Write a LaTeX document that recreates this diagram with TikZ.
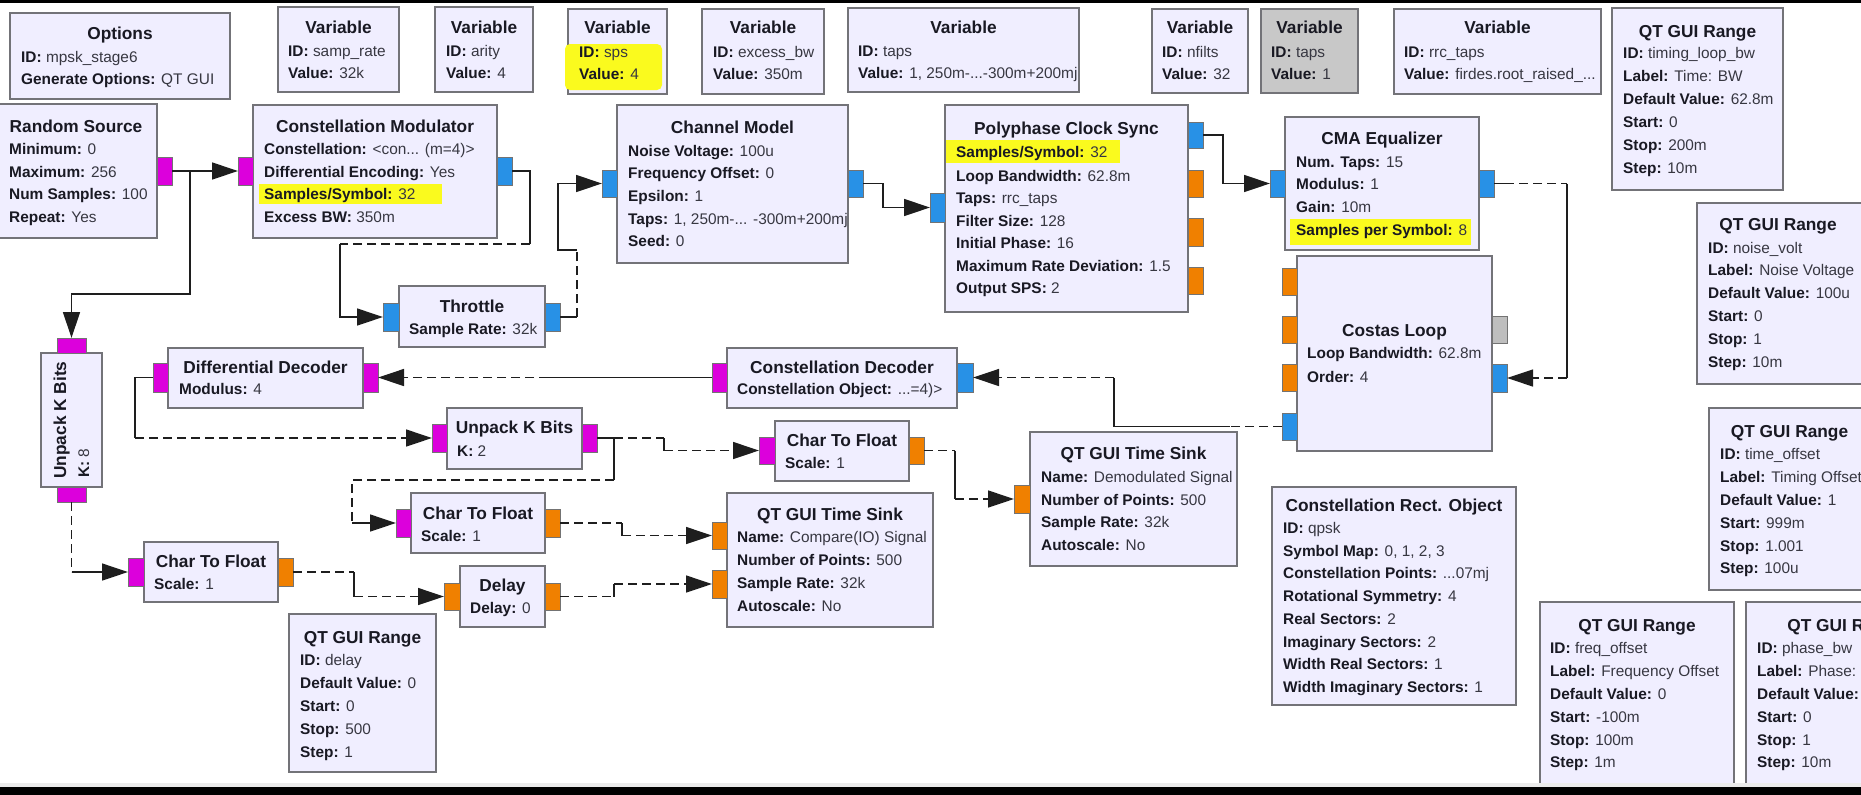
\documentclass[tikz,border=0pt]{standalone}
\usepackage{fontspec}
\setmainfont{Liberation Sans}
\usetikzlibrary{arrows.meta,fit}
\definecolor{bfill}{RGB}{240,238,255}
\definecolor{bdraw}{RGB}{115,115,120}
\definecolor{gfill}{RGB}{200,200,200}
\definecolor{pmag}{RGB}{220,0,220}
\definecolor{pblue}{RGB}{40,145,230}
\definecolor{porg}{RGB}{240,128,0}
\definecolor{pgray}{RGB}{190,190,190}
\definecolor{hl}{RGB}{250,250,30}
\definecolor{txt}{RGB}{25,25,35}
\definecolor{val}{RGB}{55,55,65}
\definecolor{wcol}{RGB}{30,30,30}
\newcommand\tfnt{\fontsize{17.3}{20}\selectfont\bfseries}
\newcommand\pfnt{\fontsize{15.4}{18}\selectfont}
\newcounter{tn}
\newcommand\Ttl[3]{\stepcounter{tn}\node[ttl] (tt\arabic{tn}) at (#1,#2+6) {#3};}
\newcommand\Pl[3]{\stepcounter{tn}\node[prm] (tp\arabic{tn}) at (#1,#2+5.5) {#3};}
\newcommand\kv[2]{\textbf{#1:} \textcolor{val}{#2}}
\newcommand\Blk[6][bfill]{\node[blk, fill=#1, fit={(#3,#4) (#5,#6)}] (#2) {};}
\newcommand\Prt[6]{\node[prt, fill=#2, fit={(#3,#4) (#5,#6)}] (#1) {};}
\tikzset{
  blk/.style={draw=bdraw, line width=1.4pt, inner sep=0pt, outer sep=0pt},
  prt/.style={draw=black!55, line width=0.8pt, inner sep=0pt, outer sep=0pt},
  ttl/.style={font=\tfnt, anchor=base, text=txt, inner sep=0pt},
  prm/.style={font=\pfnt, anchor=base west, text=txt, inner sep=0pt},
  wire/.style={line width=1.3pt, draw=wcol},
  dwire/.style={wire, dash pattern=on 9pt off 5pt},
  arr/.style={-{Triangle[length=26pt,width=17pt]}}
}
\begin{document}
\begin{tikzpicture}[x=1pt,y=-1pt]
\useasboundingbox (0,0) rectangle (1861,795);
\clip (0,0) rectangle (1861,795);
\fill[white] (0,0) rectangle (1861,795);

% ---------- top row ----------
\Blk{opt}{10}{13}{230}{99}
\Blk{vsr}{278}{7}{399}{92}
\Blk{var}{435}{7}{533}{92}
\Blk{vsps}{568}{9}{667}{94}
\Blk{vebw}{702}{9}{824}{94}
\Blk{vtaps}{848}{8}{1079}{92}
\Blk{vnf}{1152}{9}{1248}{93}
\Blk[gfill]{vtg}{1261}{9}{1358}{93}
\Blk{vrrc}{1394}{9}{1601}{94}
\Blk{rtl}{1612}{8}{1783}{190}
\Blk{rnv}{1697}{203}{1866}{384}
% ---------- main blocks ----------
\Blk{rs}{-3}{104}{157}{238}
\Blk{cm}{253}{105}{497}{238}
\Blk{ch}{617}{105}{848}{263}
\Blk{th}{399}{286}{545}{347}
\Blk{pc}{945}{105}{1188}{312}
\Blk{cma}{1285}{117}{1479}{250}
\Blk{co}{1297}{256}{1492}{451}
\Blk{dd}{168}{348}{363}{408}
\Blk{cd}{727}{348}{957}{408}
\Blk{u2}{447}{408}{582}{469}
\Blk{u8}{41}{353}{102}{487}
\Blk{c1}{775}{421}{909}{481}
\Blk{c2}{411}{493}{545}{553}
\Blk{c3}{144}{542}{278}{602}
\Blk{dl}{460}{566}{545}{627}
\Blk{tsd}{1030}{432}{1237}{566}
\Blk{tsc}{727}{493}{933}{627}
\Blk{rdl}{289}{614}{436}{772}
\Blk{cro}{1272}{487}{1516}{705}
\Blk{rto}{1709}{408}{1870}{590}
\Blk{rfo}{1540}{602}{1734}{805}
\Blk{rpb}{1746}{602}{1946}{805}

% ---------- highlights ----------
\fill[hl, rounded corners=5pt] (565,44) rectangle (662,90);
\fill[hl] (259,184) rectangle (442,204);
\fill[hl] (946,140) rectangle (1120,163);
\fill[hl] (1290,219) rectangle (1471,245);

% ---------- ports ----------
\Prt{rso}{pmag}{157}{157}{172}{185}
\Prt{cmi}{pmag}{238}{157}{253}{185}
\Prt{cmo}{pblue}{497}{157}{512}{185}
\Prt{chi}{pblue}{602}{170}{617}{197}
\Prt{cho}{pblue}{848}{170}{863}{197}
\Prt{thi}{pblue}{383}{303}{399}{331}
\Prt{tho}{pblue}{545}{303}{560}{331}
\Prt{pci}{pblue}{930}{193}{945}{222}
\Prt{pco1}{pblue}{1188}{122}{1203}{148}
\Prt{pco2}{porg}{1188}{170}{1203}{197}
\Prt{pco3}{porg}{1188}{218}{1203}{246}
\Prt{pco4}{porg}{1188}{267}{1203}{294}
\Prt{cmai}{pblue}{1270}{170}{1285}{197}
\Prt{cmao}{pblue}{1479}{170}{1494}{197}
\Prt{colo1}{porg}{1282}{268}{1297}{295}
\Prt{colo2}{porg}{1282}{316}{1297}{343}
\Prt{colo3}{porg}{1282}{364}{1297}{391}
\Prt{colo4}{pblue}{1282}{413}{1297}{440}
\Prt{corg}{pgray}{1492}{316}{1507}{343}
\Prt{cori}{pblue}{1492}{364}{1507}{392}
\Prt{ddo}{pmag}{153}{363}{168}{392}
\Prt{ddi}{pmag}{363}{363}{378}{392}
\Prt{cdi}{pmag}{712}{363}{727}{392}
\Prt{cdo}{pblue}{957}{363}{973}{392}
\Prt{u2i}{pmag}{432}{424}{447}{452}
\Prt{u2o}{pmag}{582}{424}{597}{452}
\Prt{u8i}{pmag}{57}{338}{86}{353}
\Prt{u8o}{pmag}{57}{487}{86}{502}
\Prt{c1i}{pmag}{759}{437}{775}{464}
\Prt{c1o}{porg}{909}{437}{924}{464}
\Prt{c2i}{pmag}{396}{509}{411}{537}
\Prt{c2o}{porg}{545}{509}{560}{537}
\Prt{c3i}{pmag}{128}{558}{144}{586}
\Prt{c3o}{porg}{278}{558}{293}{586}
\Prt{dli}{porg}{444}{583}{460}{610}
\Prt{dlo}{porg}{545}{583}{560}{610}
\Prt{tsdi}{porg}{1014}{485}{1030}{513}
\Prt{tsci1}{porg}{712}{522}{727}{549}
\Prt{tsci2}{porg}{712}{570}{727}{598}

% ---------- connectors ----------
\draw[wire,arr] (rso.east) -- (cmi.west);
\coordinate (br) at (190,171);
\draw[wire,arr] (br) -- (190,294) -- (71.5,294) -- (u8i.north);
\draw[wire] (cmo.east) -| (530,244);
\draw[dwire] (530,244) -- (340,244);
\draw[wire,arr] (340,244) |- (thi.west);
\draw[wire] (tho.east) -- (577,317);
\draw[dwire] (577,317) -- (577,250);
\draw[wire,arr] (577,250) -- (558,250) |- (chi.west);
\draw[wire,arr] (cho.east) -| (883,207.5) -- (pci.west);
\draw[wire,arr] (pco1.east) -| (1223,183.5) -- (cmai.west);
\draw[wire] (cmao.east) -- (1505,183.5);
\draw[dwire] (1505,183.5) -- (1567,183.5);
\draw[wire] (1567,183.5) -- (1567,378);
\draw[dwire,arr] (1567,378) -- (cori.east);
\draw[dwire] (colo4.west) -- (1230,426.5);
\draw[wire] (1230,426.5) -| (1114,377.5);
\draw[dwire,arr] (1114,377.5) -- (cdo.east);
\draw[wire] (cdi.west) -- (548,377.5);
\draw[dwire,arr] (548,377.5) -- (ddi.east);
\draw[wire] (ddo.west) -- (135,377.5) -- (135,438);
\draw[dwire,arr] (135,438) -- (u2i.west);
\draw[wire] (u2o.east) -- (614,438);
\draw[dwire] (614,438) -- (664,438);
\draw[wire] (664,438) -- (664,450.5);
\draw[dwire,arr] (664,450.5) -- (c1i.west);
\draw[wire] (614,438) -- (614,480);
\draw[dwire] (614,480) -- (352,480) -- (352,523);
\draw[wire,arr] (352,523) -- (c2i.west);
\draw[dwire] (c1o.east) -- (955,450.5);
\draw[wire] (955,450.5) -- (955,499);
\draw[dwire,arr] (955,499) -- (tsdi.west);
\draw[dwire] (c2o.east) -- (622,523);
\draw[wire] (622,523) -- (622,535.5);
\draw[dwire,arr] (622,535.5) -- (tsci1.west);
\draw[dwire] (dlo.east) -- (614,596.5);
\draw[wire] (614,596.5) -- (614,584);
\draw[dwire,arr] (614,584) -- (tsci2.west);
\draw[dwire] (u8o.south) -- (71.5,572);
\draw[wire,arr] (71.5,572) -- (c3i.west);
\draw[dwire] (c3o.east) -- (354,572);
\draw[wire] (354,572) -- (354,596.5);
\draw[dwire,arr] (354,596.5) -- (dli.west);

% ---------- texts ----------
\Ttl{120}{33}{Options}
\Pl{21}{57}{\kv{ID}{mpsk\_stage6}}
\Pl{21}{79}{\kv{Generate Options}{QT GUI}}

\Ttl{338.5}{27}{Variable}
\Pl{288}{51}{\kv{ID}{samp\_rate}}
\Pl{288}{73}{\kv{Value}{32k}}

\Ttl{484}{27}{Variable}
\Pl{446}{51}{\kv{ID}{arity}}
\Pl{446}{73}{\kv{Value}{4}}

\Ttl{617.5}{28}{Variable}
\Pl{579}{52}{\kv{ID}{sps}}
\Pl{579}{74}{\kv{Value}{4}}

\Ttl{763}{28}{Variable}
\Pl{713}{52}{\kv{ID}{excess\_bw}}
\Pl{713}{74}{\kv{Value}{350m}}

\Ttl{963.5}{27}{Variable}
\Pl{858}{51}{\kv{ID}{taps}}
\Pl{858}{73}{\kv{Value}{1, 250m-...-300m+200mj}}

\Ttl{1200}{28}{Variable}
\Pl{1162}{52}{\kv{ID}{nfilts}}
\Pl{1162}{74}{\kv{Value}{32}}

\Ttl{1309.5}{28}{Variable}
\Pl{1271}{52}{\kv{ID}{taps}}
\Pl{1271}{74}{\kv{Value}{1}}

\Ttl{1497.5}{28}{Variable}
\Pl{1404}{52}{\kv{ID}{rrc\_taps}}
\Pl{1404}{74}{\kv{Value}{firdes.root\_raised\_...}}

\Ttl{1697.5}{31}{QT GUI Range}
\Pl{1623}{53}{\kv{ID}{timing\_loop\_bw}}
\Pl{1623}{76}{\kv{Label}{Time: BW}}
\Pl{1623}{99}{\kv{Default Value}{62.8m}}
\Pl{1623}{122}{\kv{Start}{0}}
\Pl{1623}{145}{\kv{Stop}{200m}}
\Pl{1623}{168}{\kv{Step}{10m}}

\Ttl{1778}{224}{QT GUI Range}
\Pl{1708}{248}{\kv{ID}{noise\_volt}}
\Pl{1708}{270}{\kv{Label}{Noise Voltage}}
\Pl{1708}{293}{\kv{Default Value}{100u}}
\Pl{1708}{316}{\kv{Start}{0}}
\Pl{1708}{339}{\kv{Stop}{1}}
\Pl{1708}{362}{\kv{Step}{10m}}

\Ttl{76}{126}{Random Source}
\Pl{9}{149}{\kv{Minimum}{0}}
\Pl{9}{172}{\kv{Maximum}{256}}
\Pl{9}{194}{\kv{Num Samples}{100}}
\Pl{9}{217}{\kv{Repeat}{Yes}}

\Ttl{375}{126}{Constellation Modulator}
\Pl{264}{149}{\kv{Constellation}{<con... (m=4)>}}
\Pl{264}{172}{\kv{Differential Encoding}{Yes}}
\Pl{264}{194}{\kv{Samples/Symbol}{32}}
\Pl{264}{217}{\kv{Excess BW}{350m}}

\Ttl{732.5}{127}{Channel Model}
\Pl{628}{151}{\kv{Noise Voltage}{100u}}
\Pl{628}{173}{\kv{Frequency Offset}{0}}
\Pl{628}{196}{\kv{Epsilon}{1}}
\Pl{628}{219}{\kv{Taps}{1, 250m-... -300m+200mj}}
\Pl{628}{241}{\kv{Seed}{0}}

\Ttl{472}{306}{Throttle}
\Pl{409}{329}{\kv{Sample Rate}{32k}}

\Ttl{1066.5}{128}{Polyphase Clock Sync}
\Pl{956}{152}{\kv{Samples/Symbol}{32}}
\Pl{956}{176}{\kv{Loop Bandwidth}{62.8m}}
\Pl{956}{198}{\kv{Taps}{rrc\_taps}}
\Pl{956}{221}{\kv{Filter Size}{128}}
\Pl{956}{243}{\kv{Initial Phase}{16}}
\Pl{956}{266}{\kv{Maximum Rate Deviation}{1.5}}
\Pl{956}{288}{\kv{Output SPS}{2}}

\Ttl{1382}{138}{CMA Equalizer}
\Pl{1296}{162}{\kv{Num. Taps}{15}}
\Pl{1296}{184}{\kv{Modulus}{1}}
\Pl{1296}{207}{\kv{Gain}{10m}}
\Pl{1296}{230}{\kv{Samples per Symbol}{8}}

\Ttl{1394.5}{330}{Costas Loop}
\Pl{1307}{353}{\kv{Loop Bandwidth}{62.8m}}
\Pl{1307}{377}{\kv{Order}{4}}

\Ttl{265.5}{367}{Differential Decoder}
\Pl{179}{389}{\kv{Modulus}{4}}

\Ttl{842}{367}{Constellation Decoder}
\Pl{737}{389}{\kv{Constellation Object}{...=4)>}}

\Ttl{514.5}{427}{Unpack K Bits}
\Pl{457}{451}{\kv{K}{2}}

\node[ttl, rotate=90] (u8t) at (66,420) {Unpack K Bits};
\node[prm, rotate=90] (u8k) at (89,478) {\kv{K}{8}};

\Ttl{842}{440}{Char To Float}
\Pl{785}{463}{\kv{Scale}{1}}

\Ttl{478}{513}{Char To Float}
\Pl{421}{536}{\kv{Scale}{1}}

\Ttl{211}{561}{Char To Float}
\Pl{154}{584}{\kv{Scale}{1}}

\Ttl{502.5}{585}{Delay}
\Pl{470}{608}{\kv{Delay}{0}}

\Ttl{1133.5}{453}{QT GUI Time Sink}
\Pl{1041}{477}{\kv{Name}{Demodulated Signal}}
\Pl{1041}{500}{\kv{Number of Points}{500}}
\Pl{1041}{522}{\kv{Sample Rate}{32k}}
\Pl{1041}{545}{\kv{Autoscale}{No}}

\Ttl{830}{514}{QT GUI Time Sink}
\Pl{737}{537}{\kv{Name}{Compare(IO) Signal}}
\Pl{737}{560}{\kv{Number of Points}{500}}
\Pl{737}{583}{\kv{Sample Rate}{32k}}
\Pl{737}{606}{\kv{Autoscale}{No}}

\Ttl{362.5}{637}{QT GUI Range}
\Pl{300}{660}{\kv{ID}{delay}}
\Pl{300}{683}{\kv{Default Value}{0}}
\Pl{300}{706}{\kv{Start}{0}}
\Pl{300}{729}{\kv{Stop}{500}}
\Pl{300}{752}{\kv{Step}{1}}

\Ttl{1394}{505}{Constellation Rect. Object}
\Pl{1283}{528}{\kv{ID}{qpsk}}
\Pl{1283}{551}{\kv{Symbol Map}{0, 1, 2, 3}}
\Pl{1283}{573}{\kv{Constellation Points}{...07mj}}
\Pl{1283}{596}{\kv{Rotational Symmetry}{4}}
\Pl{1283}{619}{\kv{Real Sectors}{2}}
\Pl{1283}{642}{\kv{Imaginary Sectors}{2}}
\Pl{1283}{664}{\kv{Width Real Sectors}{1}}
\Pl{1283}{687}{\kv{Width Imaginary Sectors}{1}}

\Ttl{1789.5}{431}{QT GUI Range}
\Pl{1720}{454}{\kv{ID}{time\_offset}}
\Pl{1720}{477}{\kv{Label}{Timing Offset}}
\Pl{1720}{500}{\kv{Default Value}{1}}
\Pl{1720}{523}{\kv{Start}{999m}}
\Pl{1720}{546}{\kv{Stop}{1.001}}
\Pl{1720}{568}{\kv{Step}{100u}}

\Ttl{1637}{625}{QT GUI Range}
\Pl{1550}{648}{\kv{ID}{freq\_offset}}
\Pl{1550}{671}{\kv{Label}{Frequency Offset}}
\Pl{1550}{694}{\kv{Default Value}{0}}
\Pl{1550}{717}{\kv{Start}{-100m}}
\Pl{1550}{740}{\kv{Stop}{100m}}
\Pl{1550}{762}{\kv{Step}{1m}}

\Ttl{1846}{625}{QT GUI Range}
\Pl{1757}{648}{\kv{ID}{phase\_bw}}
\Pl{1757}{671}{\kv{Label}{Phase: BW}}
\Pl{1757}{694}{\textbf{Default Value:}}
\Pl{1757}{717}{\kv{Start}{0}}
\Pl{1757}{740}{\kv{Stop}{1}}
\Pl{1757}{762}{\kv{Step}{10m}}

% ---------- screen bars ----------
\fill[black] (0,0) rectangle (1861,3);
\fill[black!8] (0,783) rectangle (1861,787);
\fill[black] (0,787) rectangle (1861,795);
\end{tikzpicture}
\end{document}
